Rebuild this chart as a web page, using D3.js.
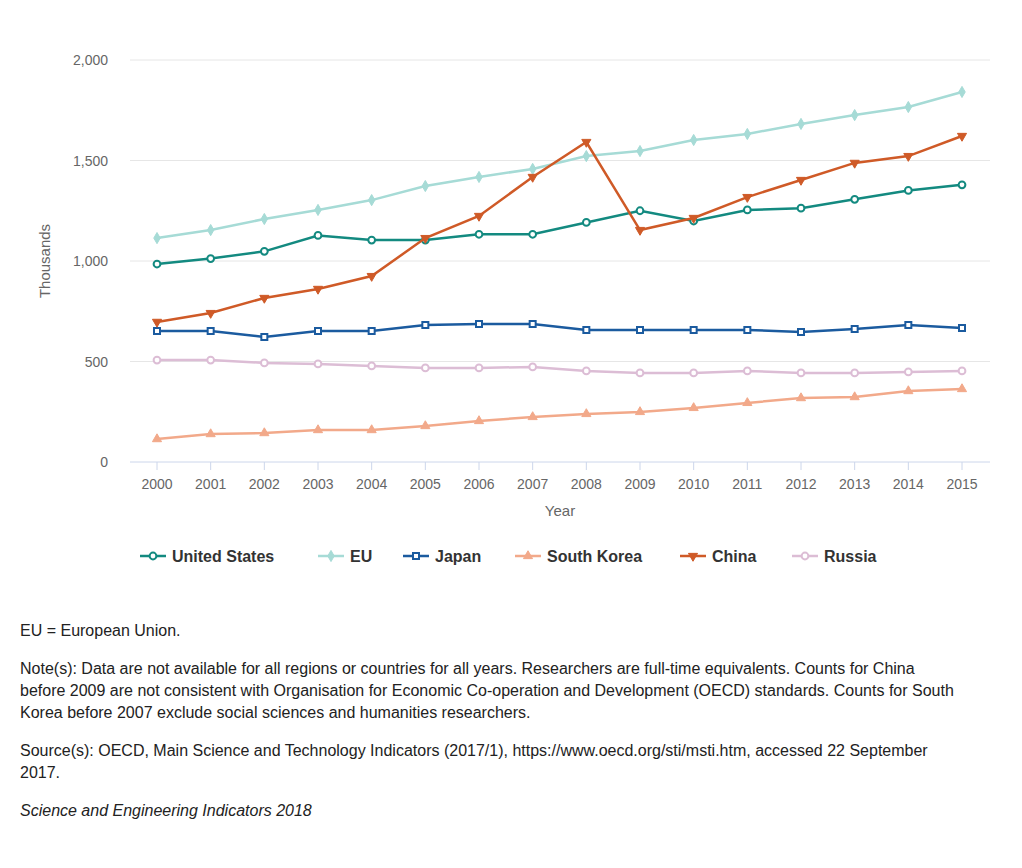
<!DOCTYPE html>
<html><head><meta charset="utf-8">
<script src="https://cdn.jsdelivr.net/npm/d3@7"></script>
<style>
body{margin:0;background:#fff;font-family:"Liberation Sans",Arial,sans-serif;}
.notes{position:absolute;left:20px;top:620px;width:935px;font-size:16px;color:#222;line-height:22px;}
.notes p{margin:0 0 16px 0;}
</style></head><body>
<svg id="chart" width="1022" height="600"></svg>
<div class="notes">
<p>EU = European Union.</p>
<p>Note(s): Data are not available for all regions or countries for all years. Researchers are full-time equivalents. Counts for China before 2009 are not consistent with Organisation for Economic Co-operation and Development (OECD) standards. Counts for South Korea before 2007 exclude social sciences and humanities researchers.</p>
<p>Source(s): OECD, Main Science and Technology Indicators (2017/1), https://www.oecd.org/sti/msti.htm, accessed 22 September 2017.</p>
<p><i>Science and Engineering Indicators 2018</i></p>
</div>
<script>
var years = [2000,2001,2002,2003,2004,2005,2006,2007,2008,2009,2010,2011,2012,2013,2014,2015];
var unitedStates = [985,1012,1048,1127,1104,1104,1133,1133,1192,1250,1199,1254,1263,1307,1351,1379];
var eu = [1114,1154,1209,1254,1303,1373,1418,1458,1522,1547,1602,1632,1682,1726,1766,1841];
var japan = [652,652,622,652,652,682,687,687,657,657,657,657,647,662,682,667];
var southKorea = [114,139,144,159,159,179,204,224,239,249,269,294,318,323,353,363];
var china = [697,741,816,861,925,1114,1224,1418,1592,1154,1214,1318,1403,1488,1522,1622];
var russia = [507,507,493,488,478,468,468,473,453,443,443,453,443,443,448,453];
var yTicks = [0,500,1000,1500,2000];

var series = [
  {name:'United States', values:unitedStates, color:'#138a80', symbol:d3.symbolCircle, fill:'#fff'},
  {name:'EU', values:eu, color:'#a6dbd6', symbol:d3.symbolDiamond, fill:null},
  {name:'Japan', values:japan, color:'#1b5b9f', symbol:d3.symbolSquare, fill:'#fff'},
  {name:'South Korea', values:southKorea, color:'#f2a98a', symbol:d3.symbolTriangle, fill:null},
  {name:'China', values:china, color:'#cf5a27', symbol:d3.symbolTriangle, fill:null, flip:true},
  {name:'Russia', values:russia, color:'#dcbdd5', symbol:d3.symbolCircle, fill:'#fff'}
];

var svg = d3.select('#chart');
var plotLeft = 130, plotRight = 990, plotTop = 60, plotBottom = 462;
var x = d3.scalePoint().domain(years).range([157, 962]);
var y = d3.scaleLinear().domain([0,2000]).range([plotBottom, plotTop]);

svg.append('g').selectAll('line').data(yTicks.slice(1)).enter().append('line')
  .attr('x1', plotLeft).attr('x2', plotRight).attr('y1', function(d){return y(d);}).attr('y2', function(d){return y(d);})
  .attr('stroke', '#e6e6e6');
svg.append('line').attr('x1', plotLeft).attr('x2', plotRight).attr('y1', plotBottom).attr('y2', plotBottom).attr('stroke', '#ccd6eb');

svg.append('g').selectAll('text').data(yTicks).enter().append('text')
  .attr('x', 108).attr('y', function(d){return y(d)+5;}).attr('text-anchor','end')
  .attr('font-size', 14).attr('fill', '#666').text(d3.format(','));
svg.append('g').selectAll('line').data(years).enter().append('line')
  .attr('x1', function(d){return x(d);}).attr('x2', function(d){return x(d);})
  .attr('y1', plotBottom).attr('y2', plotBottom+8).attr('stroke', '#ccd6eb');
svg.append('g').selectAll('text').data(years).enter().append('text')
  .attr('x', function(d){return x(d);}).attr('y', 489).attr('text-anchor','middle')
  .attr('font-size', 14).attr('fill', '#666').text(function(d){return d;});
svg.append('text').attr('x', 560).attr('y', 516).attr('text-anchor','middle')
  .attr('font-size', 15).attr('fill','#666').text('Year');
svg.append('text').attr('transform','translate(50,261) rotate(-90)').attr('text-anchor','middle')
  .attr('font-size', 15).attr('fill','#666').text('Thousands');

var line = d3.line().x(function(d,i){return x(years[i]);}).y(function(d){return y(d);});
function marker(g, s, size) {
  g.append('path').attr('d', d3.symbol().type(s.symbol).size(size)())
    .attr('transform', s.flip ? 'rotate(180)' : null)
    .attr('fill', s.fill || s.color).attr('stroke', s.color).attr('stroke-width', s.fill ? 2 : 1);
}
series.forEach(function(s){
  svg.append('path').attr('d', line(s.values)).attr('fill','none').attr('stroke', s.color).attr('stroke-width', 2.5);
  s.values.forEach(function(v,i){
    var g = svg.append('g').attr('transform','translate('+x(years[i])+','+y(v)+')');
    marker(g, s, 36);
  });
});

var legendX = [140, 318, 403, 515, 680, 792];
series.forEach(function(s,i){
  var g = svg.append('g').attr('transform','translate('+legendX[i]+',556)');
  g.append('line').attr('x1',0).attr('x2',26).attr('stroke', s.color).attr('stroke-width',2.5);
  var m = g.append('g').attr('transform','translate(13,0)');
  marker(m, s, 36);
  g.append('text').attr('x', 32).attr('y', 6).attr('font-size', 16).attr('font-weight','bold')
    .attr('fill','#333').text(s.name);
});
</script>
</body></html>
